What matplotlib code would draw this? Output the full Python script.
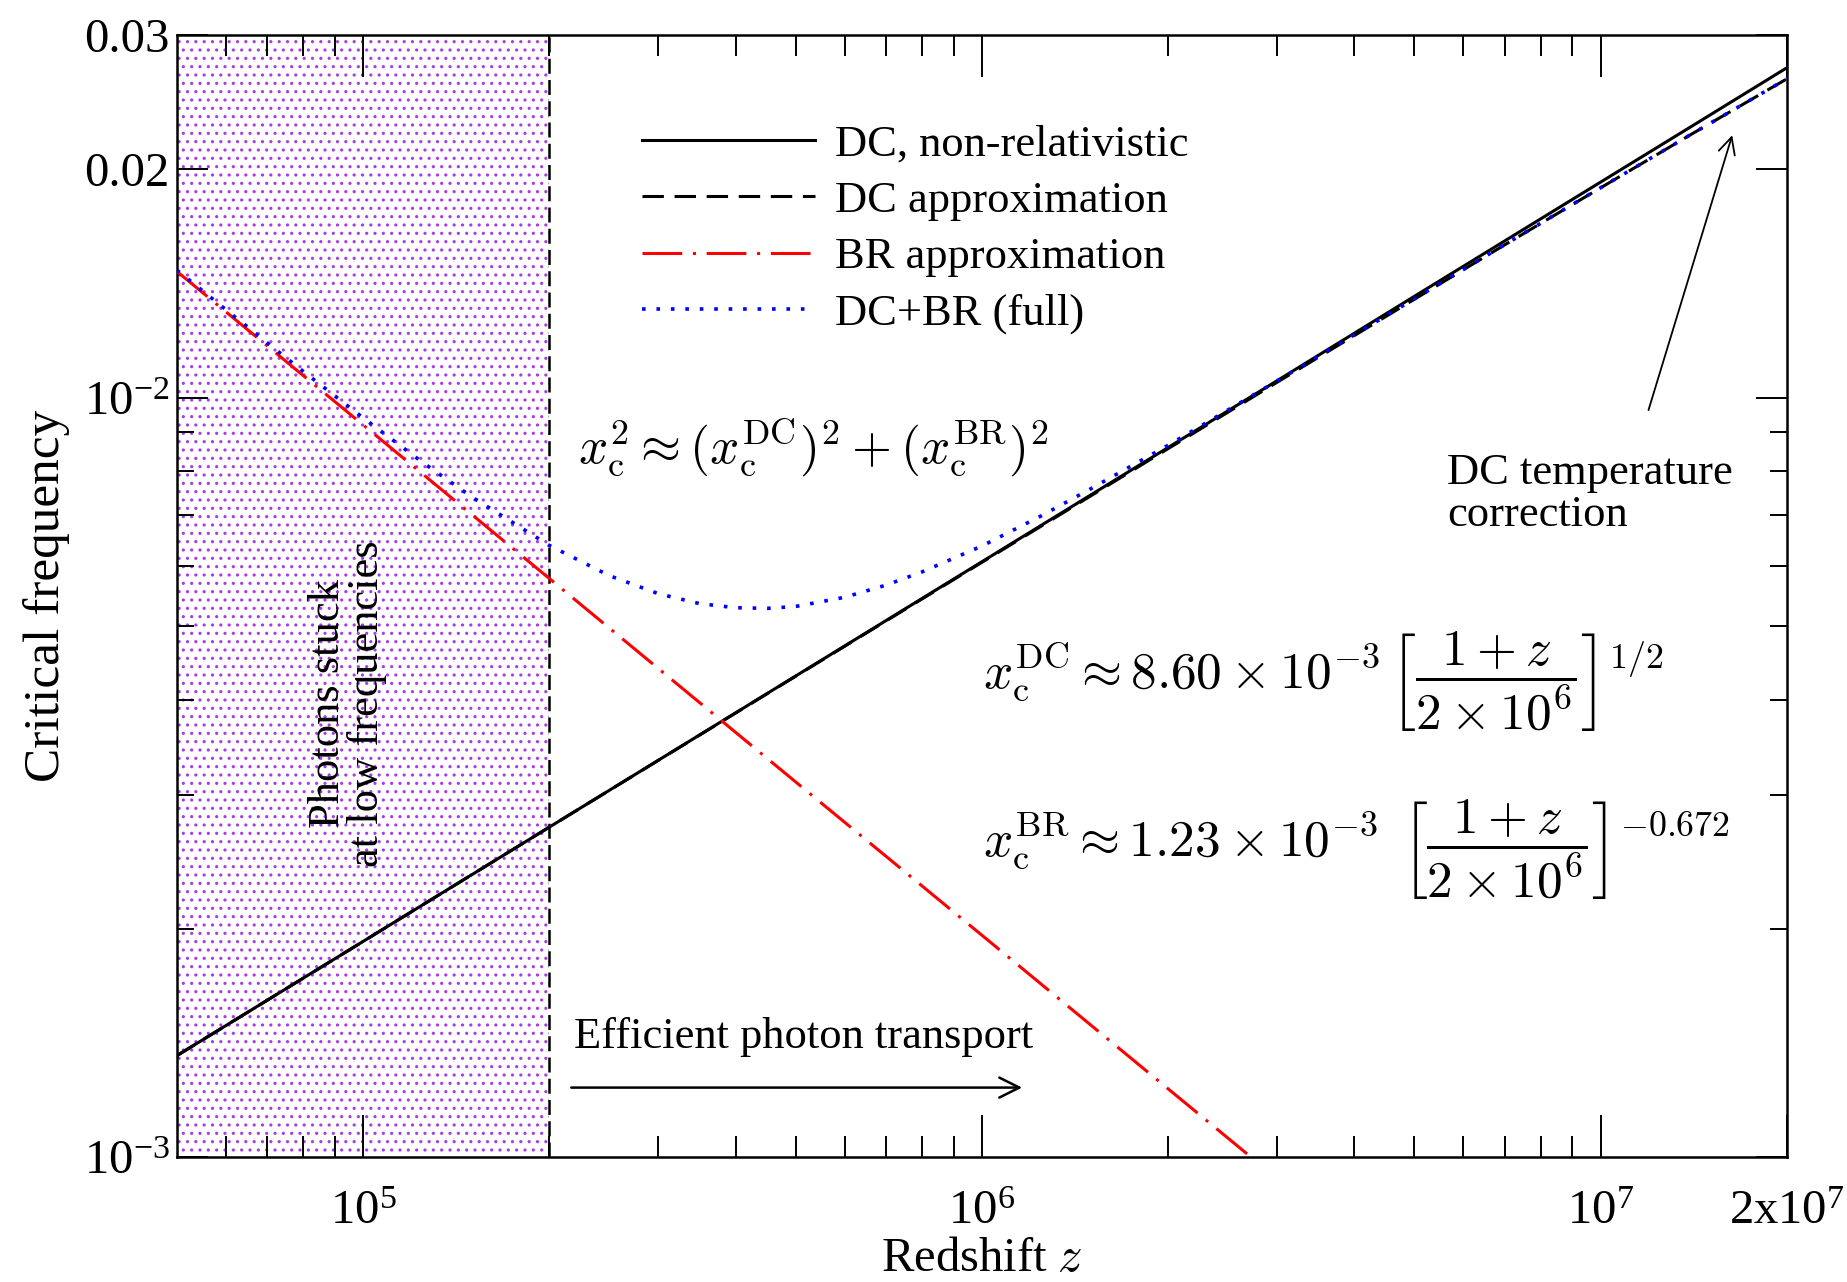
import numpy as np
import matplotlib
matplotlib.use('Agg')
import matplotlib.pyplot as plt
from matplotlib.ticker import FixedLocator, FixedFormatter, NullFormatter

plt.rcParams['font.family'] = 'Liberation Serif'
plt.rcParams['mathtext.fontset'] = 'cm'
plt.rcParams['hatch.linewidth'] = 1.1

# critical frequency versus redshift
z_dc = [5e4, 1e5, 2e5, 5e5, 1e6, 2e6, 3e6, 5e6, 7e6, 1e7, 1.4e7, 2e7]
xc_dc_nonrel = [1.360e-3, 1.923e-3, 2.720e-3, 4.300e-3, 6.081e-3, 8.600e-3,
                1.053e-2, 1.360e-2, 1.609e-2, 1.923e-2, 2.275e-2, 2.720e-2]
xc_dc_approx = [1.360e-3, 1.923e-3, 2.720e-3, 4.297e-3, 6.070e-3, 8.570e-3,
                1.048e-2, 1.348e-2, 1.590e-2, 1.890e-2, 2.222e-2, 2.630e-2]

z_br = [5e4, 1e5, 2e5, 5e5, 1e6, 2e6, 3e6]
xc_br = [1.467e-2, 9.21e-3, 5.78e-3, 3.12e-3, 1.96e-3, 1.23e-3, 9.37e-4]

z_full = [5e4, 6e4, 7e4, 8e4, 1e5, 1.25e5, 1.5e5, 2e5, 2.5e5, 3e5, 3.5e5, 4e5,
          4.5e5, 5e5, 6e5, 7e5, 8e5, 1e6, 1.25e6, 1.5e6, 2e6, 3e6, 5e6, 7e6,
          1e7, 1.4e7, 2e7]
xc_full = [1.473e-2, 1.3065e-2, 1.181e-2, 1.0836e-2, 9.41e-3, 8.212e-3, 7.40e-3,
           6.39e-3, 5.831e-3, 5.52e-3, 5.356e-3, 5.29e-3, 5.280e-3, 5.31e-3,
           5.460e-3, 5.665e-3, 5.896e-3, 6.378e-3, 6.996e-3, 7.588e-3, 8.658e-3,
           1.0522e-2, 1.3496e-2, 1.5909e-2, 1.8905e-2, 2.2224e-2, 2.6303e-2]

z_stuck = [5e4, 2e5]   # region where photons cannot be redistributed

xticks = [1e5, 1e6, 1e7, 2e7]
xticklabels = [r'$\mathregular{10^{5}}$', r'$\mathregular{10^{6}}$',
               r'$\mathregular{10^{7}}$', r'$\mathregular{2x10^{7}}$']
yticks = [1e-3, 1e-2, 0.02, 0.03]
yticklabels = [r'$\mathregular{10^{-3}}$', r'$\mathregular{10^{-2}}$', '0.02', '0.03']

fs = 32       # legend / annotation text
fs_tick = 35
fs_math = 37

fig = plt.figure(figsize=(18.47, 12.82), dpi=100)
ax = fig.add_axes([0.0957, 0.0974, 0.8718, 0.875])
ax.set_xscale('log')
ax.set_yscale('log')
ax.set_xlim(5e4, 2e7)
ax.set_ylim(1e-3, 0.03)

ax.axvspan(z_stuck[0], z_stuck[1], facecolor='white', edgecolor='#a83ce6',
           hatch='..', lw=0, zorder=0)
ax.axvline(z_stuck[1], color='black', lw=1.8, dashes=(6, 2.5), zorder=1)

ax.plot(z_dc, xc_dc_nonrel, color='black', lw=2.2, label='DC, non-relativistic', zorder=3)
ax.plot(z_dc, xc_dc_approx, color='black', lw=2.2, dashes=(7, 3.5),
        label='DC approximation', zorder=4)
ax.plot(z_br, xc_br, color='red', lw=2.2, dashes=(13, 3.5, 1, 3.5),
        label='BR approximation', zorder=4)
ax.plot(z_full, xc_full, color='blue', lw=2.6, dashes=(1, 3),
        label='DC+BR (full)', zorder=5)

ax.xaxis.set_major_locator(FixedLocator(xticks))
ax.xaxis.set_major_formatter(FixedFormatter(xticklabels))
ax.xaxis.set_minor_locator(FixedLocator([6e4, 7e4, 8e4, 9e4]
                                        + [k * 1e5 for k in range(2, 10)]
                                        + [k * 1e6 for k in range(2, 10)]))
ax.xaxis.set_minor_formatter(NullFormatter())
ax.yaxis.set_major_locator(FixedLocator(yticks))
ax.yaxis.set_major_formatter(FixedFormatter(yticklabels))
ax.yaxis.set_minor_locator(FixedLocator([k * 1e-3 for k in range(2, 10)]))
ax.yaxis.set_minor_formatter(NullFormatter())

ax.tick_params(which='both', direction='in', top=True, right=True, width=1.4,
               labelsize=fs_tick)
ax.tick_params(axis='x', which='major', length=30, pad=24)
ax.tick_params(axis='x', which='minor', length=15)
ax.tick_params(axis='y', which='major', length=22, pad=5)
ax.tick_params(axis='y', which='minor', length=12)
for s in ax.spines.values():
    s.set_linewidth(1.8)

ax.set_xlabel('Redshift $z$', fontsize=fs_tick, va='center')
ax.xaxis.set_label_coords(0.5, -0.091)
ax.set_ylabel('Critical frequency', fontsize=37, labelpad=10)

ax.legend(loc='upper left', bbox_to_anchor=(0.289, 0.921), frameon=False,
          fontsize=fs, handlelength=3.9, handletextpad=0.45, labelspacing=0.37,
          borderpad=0, borderaxespad=0)

tr = ax.transAxes
ax.text(0.106, 0.404, 'Photons stuck\nat low frequencies', transform=tr,
        rotation=90, ha='center', va='center', multialignment='center',
        fontsize=fs, linespacing=0.95)
ax.text(0.249, 0.632,
        r'$x_{\rm c}^2 \approx (x_{\rm c}^{\rm DC})^2 + (x_{\rm c}^{\rm BR})^2$',
        transform=tr, ha='left', va='center', fontsize=fs_math)
ax.text(0.789, 0.591, 'DC temperature\ncorrection', transform=tr,
        ha='left', va='center', fontsize=fs, linespacing=1.05)
ax.annotate('', xy=(0.966, 0.911), xytext=(0.914, 0.666), xycoords=tr,
            textcoords=tr,
            arrowprops=dict(arrowstyle='->', lw=1.3, color='black',
                            mutation_scale=30, shrinkA=0, shrinkB=0))
ax.text(0.247, 0.107, 'Efficient photon transport', transform=tr,
        ha='left', va='center', fontsize=fs)
ax.annotate('', xy=(0.525, 0.062), xytext=(0.245, 0.062), xycoords=tr,
            textcoords=tr,
            arrowprops=dict(arrowstyle='->', lw=1.8, color='black',
                            mutation_scale=36, shrinkA=0, shrinkB=0))
ax.text(0.501, 0.424,
        r'$x_{\rm c}^{\rm DC} \approx 8.60\times10^{-3}\,'
        r'\left[\dfrac{1+z}{2\times10^{6}}\right]^{1/2}$',
        transform=tr, ha='left', va='center', fontsize=fs_math)
ax.text(0.501, 0.274,
        r'$x_{\rm c}^{\rm BR} \approx 1.23\times10^{-3}\;\,'
        r'\left[\dfrac{1+z}{2\times10^{6}}\right]^{-0.672}$',
        transform=tr, ha='left', va='center', fontsize=fs_math)

fig.savefig('out.png', dpi=100)
